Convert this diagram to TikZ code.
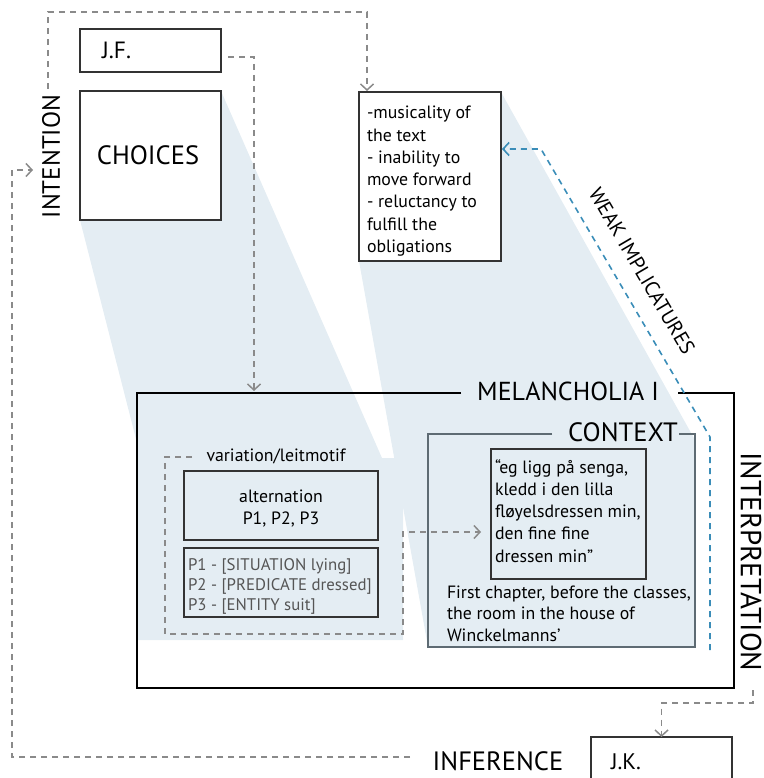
\documentclass[tikz,border=0pt]{standalone}
\usepackage{fontspec}
\setmainfont{PT Sans}
\usetikzlibrary{arrows.meta,calc}

\definecolor{veil}{HTML}{E4EDF3}
\definecolor{flowgray}{HTML}{8A8A8A}
\definecolor{linkblue}{HTML}{3A8DB8}
\definecolor{boxline}{HTML}{333333}
\definecolor{ctxline}{HTML}{5E6B73}
\definecolor{ptext}{HTML}{555555}

\tikzset{
  every node/.style={inner sep=0pt, outer sep=0pt},
  whitebox/.style={draw=boxline, line width=1.2pt, fill=white},
  openbox/.style={draw=boxline, line width=1.1pt},
  frame/.style={draw=black, line width=2pt},
  ctxframe/.style={draw=ctxline, line width=1.3pt},
  flow/.style={draw=flowgray, line width=1.5pt, dash pattern=on 6pt off 5pt},
  flowarrow/.style={flow, -{Straight Barb[length=6pt,width=13pt,line width=1.5pt]}},
  implic/.style={draw=linkblue, line width=1.6pt, dash pattern=on 6pt off 5pt,
    -{Straight Barb[length=6pt,width=13pt,line width=1.6pt]}},
  body/.style={font=\fontsize{17.8}{21}\selectfont, anchor=base west},
  plist/.style={font=\fontsize{16.8}{20}\selectfont, text=ptext, anchor=base west},
  caps/.style={font=\fontsize{#1}{#1}\selectfont},
}

\begin{document}
\begin{tikzpicture}[x=1pt,y=-1pt]
  \useasboundingbox (0,0) rectangle (763,778);

  % light projections behind the boxes
  \fill[veil] (80,220) -- (221,91) -- (382,458) -- (403,458) -- (403,640)
              -- (137,640) -- (137,443) -- cycle;
  \fill[veil] (359,261) -- (501,92) -- (695,440) -- (695,647) -- (428,647) -- cycle;

  % author side
  \node[whitebox, minimum width=141pt, minimum height=43pt] (jf) at (150.5,50.5) {};
  \node[caps=23.5, anchor=west] (jflabel) at (102,50) {J.F.};
  \node[whitebox, minimum width=141pt, minimum height=129pt] (choices) at (150.5,155.5) {};
  \node[caps=26.5] (choiceslabel) at (148,155) {CHOICES};
  \node[caps=25, rotate=90] (intention) at (51,156.5) {INTENTION};

  % implicatures
  \node[whitebox, minimum width=142pt, minimum height=169pt] (info) at (430,176.5) {};
  \foreach \t [count=\i] in {-musicality of, the text, - inability to, move forward,
      - reluctancy to, fulfill the, obligations}
    \node[body] (info\i) at (367,{119+(\i-1)*22.2}) {\t};

  % MELANCHOLIA I frame
  \node[caps=26] (melancholia) at (568,391) {MELANCHOLIA I};
  \draw[frame] (461,393) -- (137,393) -- (137,688) -- (734,688) -- (734,393) -- (678,393);

  % variation / leitmotif group
  \node[body, anchor=base] (variation) at (276,461) {variation/leitmotif};
  \node[openbox, minimum width=194pt, minimum height=69pt] (altern) at (281,505.5) {};
  \node[body, anchor=base] (alt1) at (281,502) {alternation};
  \node[body, anchor=base] (alt2) at (281,524) {P1, P2, P3};
  \node[openbox, minimum width=194pt, minimum height=69pt] (pbox) at (281,582.5) {};
  \node[plist] (p1) at (188,570) {P1 - [SITUATION lying]};
  \node[plist] (p2) at (188,590) {P2 - [PREDICATE dressed]};
  \node[plist] (p3) at (188,610) {P3 - [ENTITY suit]};

  % CONTEXT frame
  \node[caps=26.5] (context) at (623,432) {CONTEXT};
  \draw[ctxframe] (552,434) -- (428,434) -- (428,647) -- (695,647) -- (695,434) -- (679,434);
  \node[openbox, minimum width=155pt, minimum height=130pt] (quote) at (568.5,514) {};
  \foreach \t [count=\i] in {{“eg ligg på senga,}, kledd i den lilla, {fløyelsdressen min,},
      den fine fine, dressen min”}
    \node[body] (quote\i) at (495,{473+(\i-1)*22.3}) {\t};
  \foreach \t [count=\i] in {{First chapter, before the classes,}, the room in the house of,
      Winckelmanns’}
    \node[body] (place\i) at (447,{598+(\i-1)*21.5}) {\t};

  % reader side
  \node[caps=29, rotate=-90] (interpretation) at (751,562) {INTERPRETATION};
  \node[caps=26.5] (inference) at (498,761) {INFERENCE};
  \node[whitebox, minimum width=141pt, minimum height=60pt] (jk) at (661.5,767) {};
  \node[caps=22.5, anchor=west] (jklabel) at (611,762) {J.K.};
  \node[caps=20.5, rotate=-59.6] (weak) at (642,271) {WEAK IMPLICATURES};

  % connector way points
  \coordinate (topL) at (48,89);
  \coordinate (infoTop) at (367,91);
  \coordinate (jfOut) at (228,57);
  \coordinate (melTop) at (254,391);
  \coordinate (varStart) at (192,457);
  \coordinate (quoteIn) at (481,532);
  \coordinate (blueStart) at (710,650);
  \coordinate (infoSide) at (502,149);
  \coordinate (interpOut) at (753,690);
  \coordinate (infOut) at (410,757);
  \coordinate (intIn) at (33,170);

  % connectors
  \draw[flowarrow] (topL) -- (48,12) -| (infoTop);
  \draw[flowarrow] (jfOut) -| (melTop);
  \draw[flowarrow] (varStart) -- (165,457) -- (165,634) -- (403,634) |- (quoteIn);
  \draw[implic] (blueStart) -- (710,437) -- (541,149) -- (infoSide);
  \draw[flowarrow] (interpOut) -- (753,703) -| (jk.north);
  \draw[flowarrow] (infOut) -- (12,757) |- (intIn);
\end{tikzpicture}
\end{document}
